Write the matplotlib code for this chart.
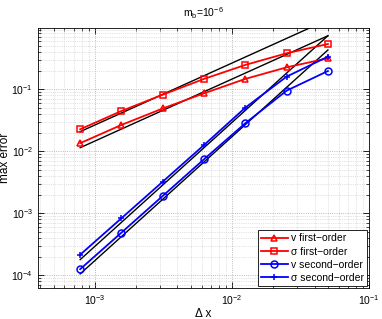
import numpy as np
import matplotlib
matplotlib.use('Agg')
import matplotlib.pyplot as plt
from matplotlib.ticker import LogLocator, NullFormatter

plt.rcParams['font.family'] = 'Liberation Sans'
plt.rcParams['mathtext.default'] = 'regular'
plt.rcParams['font.size'] = 7.5

# grid spacing
dx = [0.05, 0.025, 0.0125, 0.00625, 0.003125, 0.0015625, 0.00078125]

# max errors
v_first = [0.316, 0.226, 0.147, 0.086, 0.049, 0.0266, 0.0135]
s_first = [0.538, 0.381, 0.247, 0.147, 0.0818, 0.0446, 0.0226]
v_second = [0.197, 0.095, 0.0283, 0.00743, 0.0019, 0.000486, 0.000125]
s_second = [0.336, 0.16, 0.0505, 0.0126, 0.00323, 0.00083, 0.000214]

# reference slopes: (constant, order)
ref_lines = [(26.5, 1), (14.6, 1), (292.0, 2), (172.0, 2)]

fig = plt.figure(figsize=(3.82, 3.19), dpi=100)
ax = fig.add_axes([0.0995, 0.097, 0.867, 0.814])

h = np.array(dx)
for c, p in ref_lines:
    ax.loglog(h, c * h**p, color='k', lw=1.0, zorder=2)

ax.loglog(dx, v_first, '-^', color='r', lw=1.3, ms=5, mfc='none', mew=1.1,
          label='v first\u2212order', zorder=3)
ax.loglog(dx, s_first, '-s', color='r', lw=1.3, ms=4.5, mfc='none', mew=1.1,
          label='\u03c3 first\u2212order', zorder=3)
ax.loglog(dx, v_second, '-o', color='b', lw=1.3, ms=5, mfc='none', mew=1.1,
          label='v second\u2212order', zorder=3)
ax.loglog(dx, s_second, '-+', color='b', lw=1.3, ms=5, mew=1.1,
          label='\u03c3 second\u2212order', zorder=3)

ax.set_xlim(3.85e-4, 0.1)
ax.set_ylim(6.2e-5, 0.96)

ax.xaxis.set_major_locator(LogLocator(base=10, numticks=10))
ax.yaxis.set_major_locator(LogLocator(base=10, numticks=10))
ax.xaxis.set_minor_locator(LogLocator(base=10, subs=np.arange(2, 10), numticks=20))
ax.yaxis.set_minor_locator(LogLocator(base=10, subs=np.arange(2, 10), numticks=20))
ax.xaxis.set_minor_formatter(NullFormatter())
ax.yaxis.set_minor_formatter(NullFormatter())

ax.tick_params(which='both', direction='in', top=True, right=True)
ax.tick_params(which='major', length=4, width=0.6, labelsize=7.5)
ax.tick_params(which='minor', length=2, width=0.5)
for sp in ax.spines.values():
    sp.set_linewidth(0.6)

ax.grid(True, which='major', ls=':', color='0.65', lw=0.6)
ax.grid(True, which='minor', ls=':', color='0.78', lw=0.5)
ax.set_axisbelow(True)

ax.set_title('m$_b$=10$^{-6}$', fontsize=7.5, pad=8)
ax.set_xlabel('\u0394 x', fontsize=8.5, labelpad=1)
ax.set_ylabel('max error', fontsize=8.5, labelpad=0)

leg = ax.legend(loc='lower right', fontsize=7.5, fancybox=False, framealpha=1,
                edgecolor='k', borderpad=0.3, labelspacing=0.3, handlelength=2.6,
                handletextpad=0.3, borderaxespad=0.2)
leg.get_frame().set_linewidth(0.6)

fig.savefig('out.png', dpi=100)
